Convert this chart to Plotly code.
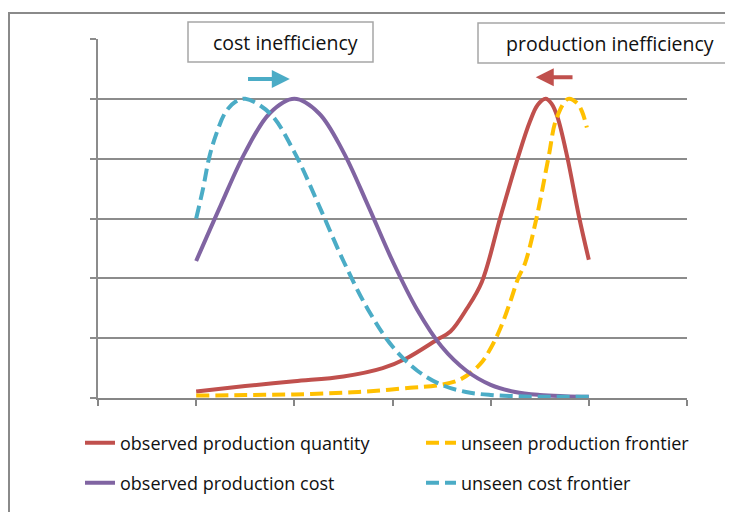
import plotly.graph_objects as go

# ---- data ----
qty_x = [1.0, 1.5, 2.0, 2.5, 2.9, 3.15, 3.45, 3.59, 3.76, 3.91, 4.1, 4.28, 4.40, 4.48, 4.56, 4.62, 4.68, 4.78, 4.90, 5.0]
qty_y = [0.11, 0.2, 0.28, 0.36, 0.5, 0.67, 0.97, 1.11, 1.5, 1.94, 3.03, 4.03, 4.62, 4.9, 5.0, 4.92, 4.7, 4.03, 3.03, 2.31]

pfront_x = [1.0, 1.5, 2.0, 2.5, 2.74, 3.18, 3.45, 3.69, 3.89, 4.0, 4.1, 4.2, 4.28, 4.35, 4.47, 4.59, 4.67, 4.79, 4.88, 4.93, 4.98]
pfront_y = [0.04, 0.05, 0.06, 0.09, 0.11, 0.17, 0.21, 0.31, 0.56, 0.83, 1.17, 1.61, 2.0, 2.25, 3.03, 4.03, 4.67, 5.0, 4.93, 4.79, 4.52]

cost_x = [1.0, 1.25, 1.5, 1.75, 2.0, 2.25, 2.5, 2.75, 3.0, 3.25, 3.5, 3.75, 4.0, 4.25, 4.5, 4.75, 5.0]
cost_y = [2.29, 3.22, 4.11, 4.76, 5.0, 4.76, 4.11, 3.22, 2.29, 1.48, 0.86, 0.46, 0.22, 0.10, 0.05, 0.03, 0.02]

cfront_x = [1.0, 1.07, 1.13, 1.2, 1.3, 1.4, 1.5, 1.75, 2.0, 2.25, 2.5, 2.75, 3.0, 3.25, 3.5, 3.75, 4.0, 4.25, 4.5, 4.75, 5.0]
cfront_y = [3.0, 3.5, 4.0, 4.39, 4.78, 4.95, 5.0, 4.76, 4.11, 3.22, 2.29, 1.48, 0.86, 0.46, 0.22, 0.10, 0.05, 0.03, 0.02, 0.02, 0.02]

names = ["observed production quantity", "unseen production frontier",
         "observed production cost", "unseen cost frontier"]
box_labels = ["cost inefficiency", "production inefficiency"]

RED, YEL, PUR, CYA = "#C0504D", "#FFC000", "#8064A2", "#4BACC6"
GRID = "#8c8c8c"
FONT = "Open Sans"
DASH = "13px,6px"

fig = go.Figure()
fig.add_trace(go.Scatter(x=qty_x, y=qty_y, mode="lines", name=names[0], legend="legend",
                         line=dict(color=RED, width=4, shape="spline", smoothing=1.0)))
fig.add_trace(go.Scatter(x=pfront_x, y=pfront_y, mode="lines", name=names[1], legend="legend2",
                         line=dict(color=YEL, width=4, dash=DASH, shape="spline", smoothing=1.0)))
fig.add_trace(go.Scatter(x=cost_x, y=cost_y, mode="lines", name=names[2], legend="legend3",
                         line=dict(color=PUR, width=4, shape="spline", smoothing=1.0)))
fig.add_trace(go.Scatter(x=cfront_x, y=cfront_y, mode="lines", name=names[3], legend="legend4",
                         line=dict(color=CYA, width=4, dash=DASH, shape="spline", smoothing=1.0)))

# page body has an 8px margin, so the figure is offset by 8px
OFF = 8
W, H = 733 - OFF, 512 - OFF
L, T = 98 - OFF, 39 - OFF
R = W - (687 - OFF)
B = H - (399 - OFF)
PW, PH = W - L - R, H - T - B


def px(xs):
    """screen x -> paper x"""
    return (xs - OFF - L) / PW


def py(ys):
    """screen y -> paper y"""
    return (H - B - (ys - OFF)) / PH


shapes = [
    # outer chart frame
    dict(type="rect", xref="paper", yref="paper", x0=px(9), x1=px(760), y0=py(540), y1=py(13),
         line=dict(color="#8a8a8a", width=2), fillcolor="rgba(0,0,0,0)", layer="below"),
    # text boxes
    dict(type="rect", xref="paper", yref="paper", x0=px(188), x1=px(373), y0=py(62), y1=py(22),
         line=dict(color="#a6a6a6", width=1.5), fillcolor="white", layer="above"),
    dict(type="rect", xref="paper", yref="paper", x0=px(478), x1=px(729), y0=py(63), y1=py(23),
         line=dict(color="#a6a6a6", width=1.5), fillcolor="white", layer="above"),
]

annotations = [
    dict(text=box_labels[0], xref="paper", yref="paper", x=px(285), y=py(43), showarrow=False,
         font=dict(family=FONT, size=19.5, color="#111"), xanchor="center", yanchor="middle"),
    dict(text=box_labels[1], xref="paper", yref="paper", x=px(610), y=py(44), showarrow=False,
         font=dict(family=FONT, size=19.5, color="#111"), xanchor="center", yanchor="middle"),
    dict(text="", x=1.954, y=5.33, ax=1.513, ay=5.33, xref="x", yref="y", axref="x", ayref="y",
         showarrow=True, arrowhead=2, arrowsize=0.9, arrowwidth=4, arrowcolor=CYA),
    dict(text="", x=4.459, y=5.36, ax=4.849, ay=5.36, xref="x", yref="y", axref="x", ayref="y",
         showarrow=True, arrowhead=2, arrowsize=0.9, arrowwidth=4, arrowcolor=RED),
]

leg_common = dict(orientation="h", xanchor="left", yanchor="middle",
                  bgcolor="rgba(0,0,0,0)", font=dict(family=FONT, size=18, color="#111"))

fig.update_layout(
    width=W, height=H,
    margin=dict(l=L, r=R, t=T, b=B),
    paper_bgcolor="white", plot_bgcolor="white",
    font=dict(family=FONT, size=17, color="#111"),
    xaxis=dict(range=[0, 6], dtick=1, tick0=0, showgrid=False, zeroline=False,
               showline=True, linecolor="#868686", linewidth=2,
               ticks="outside", ticklen=6, tickwidth=1.5, tickcolor="#868686",
               showticklabels=False, fixedrange=True),
    yaxis=dict(range=[0, 6], dtick=1, tick0=0, showgrid=True, gridcolor=GRID, gridwidth=1.5,
               zeroline=False, showline=True, linecolor="#8c8c8c", linewidth=2,
               ticks="outside", ticklen=6, tickwidth=1.5, tickcolor="#8c8c8c",
               showticklabels=False, fixedrange=True),
    legend=dict(x=px(80), y=py(443), **leg_common),
    legend2=dict(x=px(421), y=py(443), **leg_common),
    legend3=dict(x=px(80), y=py(483), **leg_common),
    legend4=dict(x=px(421), y=py(483), **leg_common),
    shapes=shapes,
    annotations=annotations,
    showlegend=True,
)

fig.write_html("out.html")
